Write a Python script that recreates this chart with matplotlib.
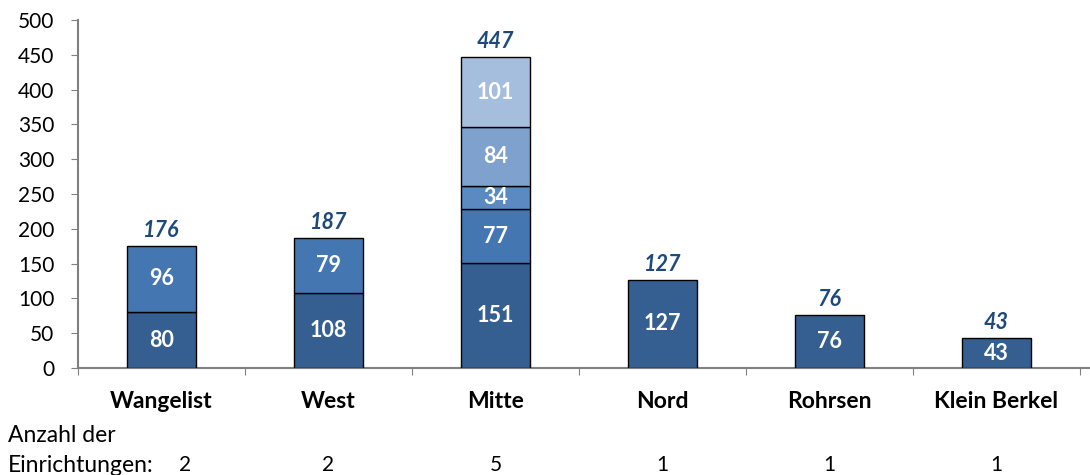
import matplotlib
matplotlib.use("Agg")
import matplotlib.pyplot as plt
import numpy as np
from matplotlib.transforms import blended_transform_factory

plt.rcParams['font.family'] = ['Lato', 'DejaVu Sans']

# Daten
bezirke = ["Wangelist", "West", "Mitte", "Nord", "Rohrsen", "Klein Berkel"]
schicht1 = [80, 108, 151, 127, 76, 43]
schicht2 = [96, 79, 77, 0, 0, 0]
schicht3 = [0, 0, 34, 0, 0, 0]
schicht4 = [0, 0, 84, 0, 0, 0]
schicht5 = [0, 0, 101, 0, 0, 0]
einrichtungen = [2, 2, 5, 1, 1, 1]
yticks = [0, 50, 100, 150, 200, 250, 300, 350, 400, 450, 500]

farben = ["#365f91", "#4477b2", "#5b89c2", "#7ea1cd", "#a6bedd"]
schichten = [schicht1, schicht2, schicht3, schicht4, schicht5]

fig = plt.figure(figsize=(10.9, 4.75), dpi=100)
ax = fig.add_axes([78/1090, 107/475, 1012/1090, 348/475])

x = np.arange(len(bezirke))
unten = np.zeros(len(bezirke))
for werte, farbe in zip(schichten, farben):
    werte = np.array(werte, dtype=float)
    for i in range(len(bezirke)):
        if werte[i] <= 0:
            continue
        ax.bar(x[i], werte[i], bottom=unten[i], width=0.41, color=farbe,
               edgecolor="black", linewidth=1.0, zorder=3)
        ax.text(x[i], unten[i] + werte[i]/2, "%d" % werte[i], ha="center", va="center",
                color="white", fontsize=15.5, fontweight="bold", zorder=4)
    unten += werte

for i in range(len(bezirke)):
    ax.text(x[i], unten[i] + 7, "%d" % unten[i], ha="center", va="bottom",
            color="#1f497d", fontsize=15.5, fontweight="bold", style="italic")

ax.set_ylim(0, 500)
ax.set_xlim(-0.5, 5.56)
ax.set_yticks(yticks)
ax.set_yticklabels([str(v) for v in yticks], fontsize=15)
ax.set_xticks(np.arange(len(bezirke) + 1) - 0.5)
ax.set_xticklabels([])
ax.tick_params(axis="y", length=5, color="#808080", pad=12)
ax.tick_params(axis="x", length=5, color="#808080", direction="out")
for s in ["top", "right"]:
    ax.spines[s].set_visible(False)
for s in ["left", "bottom"]:
    ax.spines[s].set_color("#808080")
    ax.spines[s].set_linewidth(1.5)

trans = blended_transform_factory(ax.transData, fig.transFigure)
for i, name in enumerate(bezirke):
    ax.text(x[i], 1 - 401/475, name, transform=trans, ha="center", va="center",
            fontsize=16.5, fontweight="bold", color="black")

fig.text(8/1090, 1 - 436/475, "Anzahl der", fontsize=16.5, va="center", ha="left")
fig.text(8/1090, 1 - 465/475, "Einrichtungen:", fontsize=16.5, va="center", ha="left")
for i, n in enumerate(einrichtungen):
    xp = x[i] + (0.14 if i == 0 else 0)
    ax.text(xp, 1 - 465/475, str(n), transform=trans, ha="center", va="center", fontsize=15)

fig.savefig("out.png", dpi=100)
